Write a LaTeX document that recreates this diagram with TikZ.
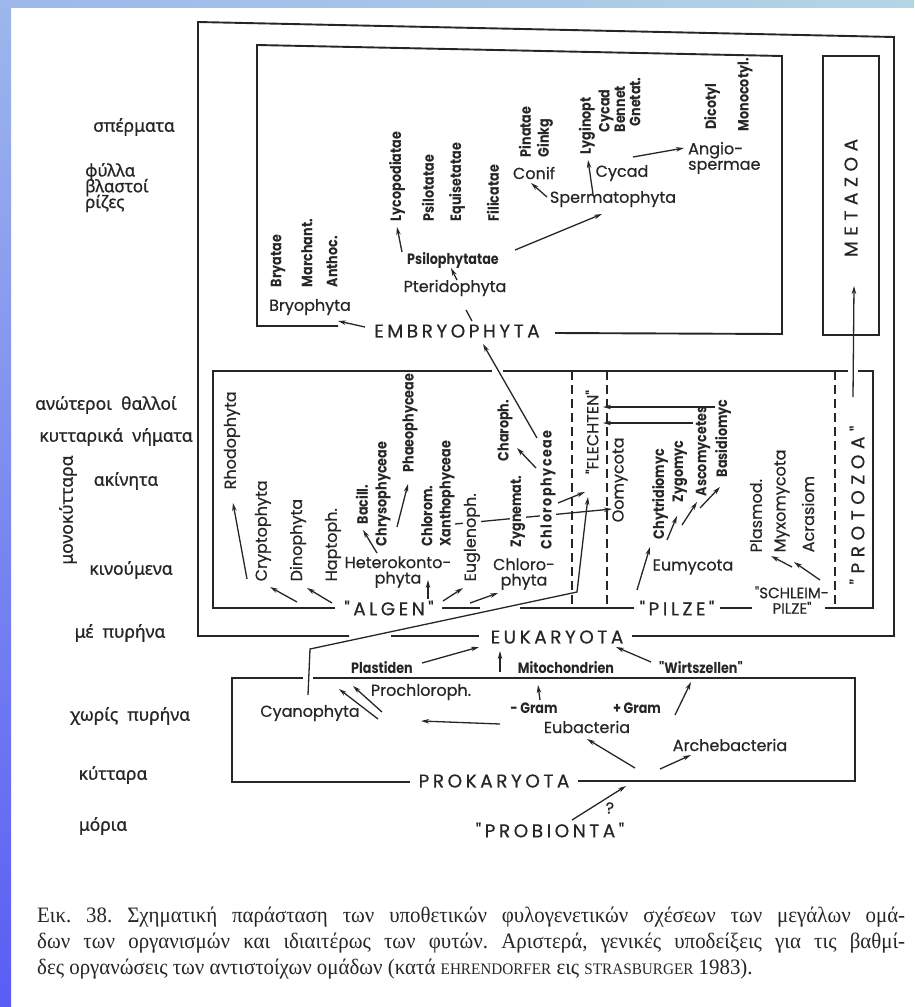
\documentclass[tikz,border=0pt]{standalone}
\usepackage{fontspec}
\setmainfont{Liberation Serif}[FakeStretch=0.95]
\newfontfamily\lat{Poppins}[FakeBold=0.5]
\newfontfamily\smb{Poppins}[FakeStretch=0.85]
\newfontfamily\smbsp{Poppins}[FakeStretch=0.85, LetterSpace=10]
\newfontfamily\spc{Poppins}[LetterSpace=19, FakeBold=0.5]
\newfontfamily\spcw{Poppins}[LetterSpace=30, FakeBold=0.5]
\newfontfamily\grk{Noto Sans}[FakeBold=0.8]
\usetikzlibrary{arrows.meta}
\definecolor{ink}{HTML}{262626}
\definecolor{bandA}{HTML}{9DB7EC}
\definecolor{bandB}{HTML}{5A5CF4}
\definecolor{bandC}{HTML}{B2D6E4}
\tikzset{
  lbl/.style={font=\lat\fontsize{16}{17}\selectfont, inner sep=0.5pt, text=ink},
  two/.style={lbl, font=\lat\fontsize{16}{15.5}\selectfont, inner sep=0pt},
  sb/.style={font=\smb\bfseries\fontsize{15}{16}\selectfont, inner sep=0.5pt, text=ink},
  rsb/.style={sb, rotate=90, anchor=west},
  rlb/.style={lbl, rotate=90, anchor=west},
  caps/.style={font=\spc\fontsize{18.5}{20}\selectfont, inner sep=1pt, text=ink},
  wcaps/.style={font=\spcw\fontsize{18.5}{20}\selectfont, inner sep=1pt, text=ink, rotate=90},
  gk/.style={font=\grk\fontsize{17.5}{19}\selectfont, inner sep=0.5pt, text=ink},
  arr/.style={draw=ink, line width=1.3pt, -{Stealth[length=8pt,width=4.5pt]}},
  ln/.style={draw=ink, line width=1.3pt},
  bx/.style={draw=ink, line width=1.9pt},
  dsh/.style={draw=ink, line width=1.4pt, dash pattern=on 9pt off 5pt},
  capt/.style={anchor=west, inner sep=0, text=black!85, font=\fontsize{22}{24}\selectfont\frenchspacing}
}
\begin{document}
\begin{tikzpicture}[x=1pt,y=-1pt]
\useasboundingbox (0,0) rectangle (914,1007);
\fill[white] (0,0) rectangle (914,1007);
\shade[top color=bandA, bottom color=bandB] (0,0) rectangle (11,1007);
\shade[left color=bandA, right color=bandC] (0,0) rectangle (914,7);

% ---------- boxes ----------
\draw[bx] (349,636) -- (198,636) -- (198,22) -- (894,37) -- (894,636) -- (632,636);
\draw[bx] (391,636) -- (479,636);
\draw[bx] (338,326) -- (257,326) -- (257,45) -- (782,56) -- (782,334) -- (555,333);
\draw[bx] (823,56) rectangle (879,335);
\draw[bx] (335,608) -- (213,608) -- (213,371) -- (492,371);
\draw[bx] (503,371) -- (848,371);
\draw[bx] (858,371) -- (873,371) -- (873,608) -- (825,608);
\draw[bx] (442,608) -- (480,608);
\draw[bx] (520,608) -- (634,608);
\draw[bx] (720,608) -- (752,608);
\draw[bx] (303,678) -- (232,678) -- (232,782) -- (410,782);
\draw[bx] (313,678) -- (855,678) -- (855,781) -- (578,781);
\draw[dsh] (572,371) -- (572,608);
\draw[dsh] (607,371) -- (607,608);
\draw[dsh] (835,371) -- (835,608);

% ---------- line behind rotated labels (Xanthophyceae -> Oomycota) ----------
\coordinate (xo1) at (455,524);
\coordinate (xo2) at (612,509);
\draw[arr] (xo1) -- (xo2);

% ---------- left Greek labels ----------
\node[gk] (g1) at (134,127) {σπέρματα};
\node[gk, anchor=north west, align=left, inner sep=0pt, font=\grk\fontsize{17}{14.5}\selectfont] (g2) at (85,163) {φύλλα\\[-2.5pt]βλαστοί\\[-2.5pt]ρίζες};
\node[gk] (g5) at (106,405) {ανώτεροι\ \ θαλλοί};
\node[gk] (g6) at (116,437) {κυτταρικά\ \ νήματα};
\node[gk] (g7) at (126,481) {ακίνητα};
\node[gk, rotate=90] (g8) at (68,510) {μονοκύτταρα};
\node[gk] (g9) at (131,570) {κινούμενα};
\node[gk] (g10) at (120,633) {μέ\ \ πυρήνα};
\node[gk] (g11) at (130,716) {χωρίς\ \ πυρήνα};
\node[gk] (g12) at (113,775) {κύτταρα};
\node[gk] (g13) at (103,826) {μόρια};

% ---------- Embryophyta box ----------
\node[rsb] (bryat) at (278,288) {Bryatae};
\node[rsb] (march) at (307,288) {Marchant.};
\node[rsb] (anth) at (332,288) {Anthoc.};
\node[lbl] (bryo) at (310,307) {Bryophyta};
\node[caps] (emb) at (457,331) {EMBRYOPHYTA};
\node[lbl] (pter) at (455,288) {Pteridophyta};
\node[sb] (psiph) at (453,260) {Psilophytatae};
\node[rsb] (lyco) at (397,222) {Lycopodiatae};
\node[rsb] (psilot) at (428,222) {Psilotatae};
\node[rsb] (equis) at (457,222) {Equisetatae};
\node[rsb] (filic) at (493,222) {Filicatae};
\node[lbl] (conif) at (534,173) {Conif};
\node[rsb] (pinat) at (525,158) {Pinatae};
\node[rsb] (ginkg) at (545,158) {Ginkg};
\node[lbl] (sperm) at (613,199) {Spermatophyta};
\node[lbl] (cycad) at (622,173) {Cycad};
\node[rsb] (lygin) at (587,155) {Lyginopt};
\node[rsb] (cycr) at (606,133) {Cycad};
\node[rsb] (benn) at (620,133) {Bennet};
\node[rsb] (gnet) at (635,127) {Gnetat.};
\node[two, align=left, anchor=west] (angio) at (688,158) {Angio-\\spermae};
\node[rsb] (dicot) at (712,130) {Dicotyl};
\node[rsb] (monoc) at (745,132) {Monocotyl.};
\node[wcaps] (meta) at (851,198) {METAZOA};

\coordinate (a1s) at (365,327); \coordinate (a1t) at (338,321);
\draw[arr] (a1s) -- (a1t);
\coordinate (a2s) at (472,321); \coordinate (a2t) at (466,310);
\draw[ln] (a2s) -- (a2t);
\coordinate (a3s) at (457,280); \coordinate (a3t) at (451,268);
\draw[arr] (a3s) -- (a3t);
\coordinate (a4s) at (402,252); \coordinate (a4t) at (397,227);
\draw[arr] (a4s) -- (a4t);
\coordinate (a5s) at (515,250); \coordinate (a5t) at (602,214);
\draw[arr] (a5s) -- (a5t);
\coordinate (a6s) at (547,197); \coordinate (a6t) at (531,183);
\draw[arr] (a6s) -- (a6t);
\coordinate (a7s) at (593,194); \coordinate (a7t) at (588,160);
\draw[arr] (a7s) -- (a7t);
\coordinate (a8s) at (633,157); \coordinate (a8t) at (684,148);
\draw[arr] (a8s) -- (a8t);
\coordinate (a9s) at (853,397); \coordinate (a9t) at (854,286);
\draw[arr] (a9s) -- (a9t);

% ---------- Algen box ----------
\node[rlb] (rhodo) at (232,490) {Rhodophyta};
\node[rlb] (crypt) at (263,582) {Cryptophyta};
\node[rlb] (dino) at (298,582) {Dinophyta};
\node[rlb] (hapt) at (333,582) {Haptoph.};
\node[caps] (algen) at (389,608) {"ALGEN"};
\node[two, align=center] (het) at (398,572) {Heterokonto-\\phyta};
\node[rsb] (bacil) at (362,525) {Bacill.};
\node[rsb] (chrys) at (383,547) {Chrysophyceae};
\node[rsb] (phaeo) at (410,473) {Phaeophyceae};
\node[rsb] (chlrm) at (427,547) {Chlorom.};
\node[rsb] (xanth) at (447,547) {Xanthophyceae};
\node[rlb, fill=white] (eugl) at (472,582) {Euglenoph.};
\node[two, align=center] (chl) at (524,574) {Chloro-\\phyta};
\node[rsb, fill=white] (zygn) at (518,548) {Zygnemat.};
\node[rsb] (charo) at (505,462) {Charoph.};
\node[rsb, fill=white, font=\smbsp\bfseries\fontsize{15}{16}\selectfont] (chlph) at (548,550) {Chlorophyceae};
\node[lbl, rotate=90] (flech) at (592,432) {"FLECHTEN"};

\coordinate (b1s) at (247,579); \coordinate (b1t) at (233,503);
\draw[arr] (b1s) -- (b1t);
\coordinate (b2s) at (297,602); \coordinate (b2t) at (270,587);
\draw[arr] (b2s) -- (b2t);
\coordinate (b3s) at (332,603); \coordinate (b3t) at (307,588);
\draw[arr] (b3s) -- (b3t);
\coordinate (b4s) at (428,599); \coordinate (b4t) at (428,580);
\draw[arr] (b4s) -- (b4t);
\coordinate (b5s) at (377,553); \coordinate (b5t) at (363,530);
\draw[arr] (b5s) -- (b5t);
\coordinate (b6s) at (397,527); \coordinate (b6t) at (408,484);
\draw[arr] (b6s) -- (b6t);
\coordinate (b7s) at (443,601); \coordinate (b7t) at (463,588);
\draw[arr] (b7s) -- (b7t);
\coordinate (b8s) at (470,603); \coordinate (b8t) at (498,593);
\draw[arr] (b8s) -- (b8t);
\coordinate (b9s) at (536,468); \coordinate (b9t) at (517,448);
\draw[arr] (b9s) -- (b9t);
\coordinate (b10s) at (537,438); \coordinate (b10t) at (483,344);
\draw[arr] (b10s) -- (b10t);
\coordinate (b11s) at (558,503); \coordinate (b11t) at (585,492);
\draw[arr] (b11s) -- (b11t);

% ---------- Pilze ----------
\node[rlb] (oomy) at (620,523) {Oomycota};
\node[rsb] (chytr) at (660,540) {Chytridiomyc};
\node[rsb] (zygo) at (680,503) {Zygomyc};
\node[rsb] (asco) at (703,497) {Ascomycetes};
\node[rsb] (basid) at (723,478) {Basidiomyc};
\node[lbl] (eumy) at (693,567) {Eumycota};
\node[caps] (pilze) at (677,608) {"PILZE"};
\node[two, align=center, font=\lat\fontsize{15}{15.5}\selectfont] (schl) at (792,600) {"SCHLEIM-\\PILZE"};
\node[rlb] (plasm) at (756,553) {Plasmod.};
\node[rlb] (myxo) at (782,553) {Myxomycota};
\node[rlb] (acras) at (808,553) {Acrasiom};
\node[wcaps] (proto) at (857,505) {"PROTOZOA"};

\coordinate (c1s) at (715,407); \coordinate (c1t) at (603,407);
\draw[arr] (c1s) -- (c1t);
\coordinate (c2s) at (693,423); \coordinate (c2t) at (603,423);
\draw[arr] (c2s) -- (c2t);
\coordinate (c3s) at (637,590); \coordinate (c3t) at (650,547);
\draw[arr] (c3s) -- (c3t);
\coordinate (c4s) at (667,540); \coordinate (c4t) at (677,516);
\draw[arr] (c4s) -- (c4t);
\coordinate (c5s) at (682,525); \coordinate (c5t) at (697,502);
\draw[arr] (c5s) -- (c5t);
\coordinate (c6s) at (700,508); \coordinate (c6t) at (720,487);
\draw[arr] (c6s) -- (c6t);
\coordinate (c7s) at (792,567); \coordinate (c7t) at (771,556);
\draw[arr] (c7s) -- (c7t);
\coordinate (c8s) at (820,580); \coordinate (c8t) at (794,562);
\draw[arr] (c8s) -- (c8t);

% ---------- Eukaryota / Prokaryota ----------
\node[caps] (euk) at (557,637) {EUKARYOTA};
\node[sb] (plast) at (382,668) {Plastiden};
\node[sb] (mito) at (566,668) {Mitochondrien};
\node[sb] (wirt) at (701,668) {"Wirtszellen"};
\node[lbl] (cyan) at (310,713) {Cyanophyta};
\node[lbl] (proch) at (421,692) {Prochloroph.};
\node[sb] (mgram) at (534,708) {-\,Gram};
\node[sb] (pgram) at (637,708) {+\,Gram};
\node[lbl] (eubac) at (587,727) {Eubacteria};
\node[lbl] (arch) at (730,745) {Archebacteria};
\node[caps] (prok) at (494,781) {PROKARYOTA};
\node[lbl] (qm) at (610,808) {?};
\node[caps] (probi) at (550,830) {"PROBIONTA"};

\coordinate (d1s) at (422,663); \coordinate (d1t) at (479,647);
\draw[arr] (d1s) -- (d1t);
\coordinate (d2s) at (500,672); \coordinate (d2t) at (500,651);
\draw[arr] (d2s) -- (d2t);
\coordinate (d3s) at (651,662); \coordinate (d3t) at (616,647);
\draw[arr] (d3s) -- (d3t);
\coordinate (cy0) at (308,695); \coordinate (cy1) at (310,649);
\coordinate (cy2) at (577,592); \coordinate (cy3) at (588,497);
\draw[arr] (cy0) -- (cy1) -- (cy2) -- (cy3);
\coordinate (d4s) at (382,712); \coordinate (d4t) at (353,686);
\draw[arr] (d4s) -- (d4t);
\coordinate (d5s) at (378,719); \coordinate (d5t) at (339,689);
\draw[arr] (d5s) -- (d5t);
\coordinate (d6s) at (500,724); \coordinate (d6t) at (421,721);
\draw[arr] (d6s) -- (d6t);
\coordinate (d7s) at (540,700); \coordinate (d7t) at (538,685);
\draw[arr] (d7s) -- (d7t);
\coordinate (d8s) at (675,715); \coordinate (d8t) at (691,682);
\draw[arr] (d8s) -- (d8t);
\coordinate (d9s) at (635,768); \coordinate (d9t) at (587,739);
\draw[arr] (d9s) -- (d9t);
\coordinate (d10s) at (660,769); \coordinate (d10t) at (691,755);
\draw[arr] (d10s) -- (d10t);
\coordinate (d11s) at (572,820); \coordinate (d11t) at (626,786);
\draw[arr] (d11s) -- (d11t);

% ---------- caption ----------
\node[capt] (cap1) at (37,917) {\makebox[868pt][s]{Εικ. 38. Σχηματική παράσταση των υποθετικών φυλογενετικών σχέσεων των μεγάλων ομά-}};
\node[capt] (cap2) at (37,943) {\makebox[868pt][s]{δων των οργανισμών και ιδιαιτέρως των φυτών. Αριστερά, γενικές υποδείξεις για τις βαθμί-}};
\node[capt] (cap3) at (37,969) {δες οργανώσεις των αντιστοίχων ομάδων (κατά {\fontsize{16}{18}\selectfont EHRENDORFER} εις {\fontsize{16}{18}\selectfont STRASBURGER} 1983).};
\end{tikzpicture}
\end{document}
